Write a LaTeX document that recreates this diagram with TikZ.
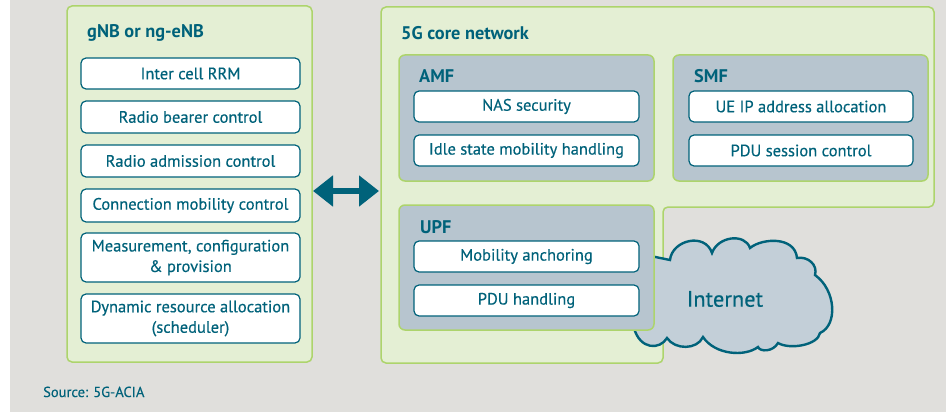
\documentclass[tikz,border=0pt]{standalone}
\usepackage{fontspec}
\setmainfont{PT Sans}
\newfontfamily\boxfont{PT Sans}[FakeBold=0.35]
\usetikzlibrary{arrows.meta}
\definecolor{bggray}{HTML}{E0DFDC}
\definecolor{lgreen}{HTML}{E4EFD4}
\definecolor{bgreen}{HTML}{ADD46C}
\definecolor{teal5}{HTML}{00627A}
\definecolor{slate}{HTML}{B7C5CF}
\definecolor{cloudc}{HTML}{C3CFD8}
\tikzset{
  fnbox/.style={draw=teal5, line width=1.2pt, fill=white, rounded corners=5pt, text=teal5,
    font=\boxfont\fontsize{16.5}{20.5}\selectfont, align=center, inner sep=0pt},
  greenbox/.style={draw=bgreen, line width=1.5pt, fill=lgreen, rounded corners=5pt, inner sep=0pt},
  nfbox/.style={draw=bgreen, line width=1.5pt, fill=slate, rounded corners=6pt, inner sep=0pt},
  ttl/.style={text=teal5, font=\bfseries\fontsize{18.3}{20}\selectfont, inner sep=0pt, anchor=base west},
}
\begin{document}
\begin{tikzpicture}[x=1pt,y=-1pt]
\useasboundingbox (0,0) rectangle (946,412);
\fill[white] (0,0) rectangle (946,412);
\fill[bggray] (10,0) rectangle (946,412);

% gNB
\node[greenbox, minimum width=245pt, minimum height=356pt] (gnb) at (189.5,184) {};
\node[ttl] (gnbt) at (87,38) {gNB or ng-eNB};
\node[fnbox, minimum width=219pt, minimum height=31pt] (b1) at (190.5,73.5) {Inter cell RRM};
\node[fnbox, minimum width=219pt, minimum height=32pt] (b2) at (190.5,117) {Radio bearer control};
\node[fnbox, minimum width=219pt, minimum height=32pt] (b3) at (190.5,161) {Radio admission control};
\node[fnbox, minimum width=219pt, minimum height=33pt] (b4) at (190.5,205.5) {Connection mobility control};
\node[fnbox, minimum width=219pt, minimum height=49pt] (b5) at (190.5,257.5) {Measurement, configuration\\\& provision};
\node[fnbox, minimum width=219pt, minimum height=49pt] (b6) at (190.5,318.5) {Dynamic resource allocation\\(scheduler)};

% core network
\draw[bgreen, line width=1.5pt, fill=lgreen, rounded corners=5pt]
  (381,7) -- (934,7) -- (934,207) -- (663,207) -- (663,363) -- (381,363) -- cycle;
\node[ttl] (coret) at (401,40) {5G core network};
\coordinate (cw) at (379,191);

% arrow
\coordinate (ae) at (313,191);
\draw[teal5, line width=6pt, {Triangle[width=30pt,length=20pt]}-{Triangle[width=30pt,length=20pt]}] (ae) -- (cw);

% cloud
\draw[teal5, line width=2.4pt, fill=cloudc]
  (636,253) -- (670,260)
  .. controls (672,240) and (705,232) .. (712,253)
  .. controls (718,236) and (745,233) .. (750,248)
  .. controls (762,238) and (795,236) .. (797,258)
  .. controls (808,256) and (818,265) .. (815,275)
  .. controls (836,290) and (838,325) .. (820,333)
  .. controls (818,345) and (790,350) .. (778,343)
  .. controls (773,352) and (760,352) .. (758,347)
  .. controls (745,357) and (715,355) .. (703,337)
  .. controls (697,350) and (675,350) .. (667,338)
  .. controls (660,350) and (640,350) .. (634,328)
  -- cycle;
\node[text=teal5, font=\boxfont\fontsize{22.4}{24}\selectfont, inner sep=0pt] (inet) at (725,299) {Internet};

% AMF
\node[nfbox, minimum width=255pt, minimum height=126pt] (amf) at (526.5,118) {};
\node[ttl] (amft) at (419,83) {AMF};
\node[fnbox, minimum width=225pt, minimum height=31pt] (a1) at (526.5,106.5) {NAS security};
\node[fnbox, minimum width=225pt, minimum height=31pt] (a2) at (526.5,150.5) {Idle state mobility handling};

% SMF
\node[nfbox, minimum width=255pt, minimum height=126pt] (smf) at (800.5,118) {};
\node[ttl] (smft) at (694,83) {SMF};
\node[fnbox, minimum width=224pt, minimum height=31pt] (s1) at (801,106.5) {UE IP address allocation};
\node[fnbox, minimum width=224pt, minimum height=31pt] (s2) at (801,150.5) {PDU session control};

% UPF
\node[nfbox, minimum width=255pt, minimum height=125pt] (upf) at (526.5,267.5) {};
\node[ttl] (upft) at (420,233) {UPF};
\node[fnbox, minimum width=225pt, minimum height=31pt] (u1) at (526.5,256.5) {Mobility anchoring};
\node[fnbox, minimum width=225pt, minimum height=31pt] (u2) at (526.5,300.5) {PDU handling};

% source
\node[text=teal5, font=\boxfont\fontsize{14.5}{16}\selectfont, inner sep=0pt, anchor=base west] (src) at (43,397) {Source: 5G-ACIA};
\end{tikzpicture}
\end{document}
